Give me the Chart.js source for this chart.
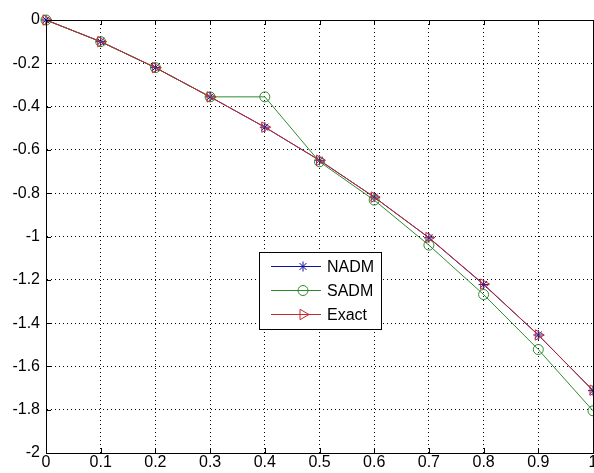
<!DOCTYPE html>
<html>
<head>
<meta charset="utf-8">
<script src="https://cdn.jsdelivr.net/npm/chart.js@4/dist/chart.umd.min.js"></script>
<style>
  html, body { margin: 0; padding: 0; background: #fff; overflow: hidden; }
  #wrap { width: 594px; height: 473px; overflow: hidden; }
</style>
</head>
<body>
<div id="wrap"><canvas id="myChart" width="600" height="473"></canvas></div>
<script>
// values
const xValues = [0, 0.1, 0.2, 0.3, 0.4, 0.5, 0.6, 0.7, 0.8, 0.9, 1.0];
const nadm  = [0, -0.1, -0.22, -0.355, -0.495, -0.648, -0.818, -1.006, -1.222, -1.455, -1.712];
const sadm  = [0, -0.1, -0.22, -0.355, -0.355, -0.655, -0.832, -1.04, -1.268, -1.522, -1.805];
const exact = [0, -0.1, -0.22, -0.355, -0.495, -0.648, -0.818, -1.005, -1.22, -1.455, -1.71];
const seriesNames = ["NADM", "SADM", "Exact"];

const FONT = '"Liberation Sans", Arial, sans-serif';

function toPoints(ys) {
    return xValues.map((x, i) => ({ x: x, y: ys[i] }));
}

// MATLAB-like box, inward ticks and legend inside the axes
const matlabBox = {
    id: 'matlabBox',
    afterDatasetsDraw(chart) {
        const { ctx, chartArea: a, scales } = chart;
        ctx.save();
        ctx.strokeStyle = '#000';
        ctx.lineWidth = 1;
        ctx.setLineDash([]);
        ctx.strokeRect(a.left + 0.5, a.top + 0.5, a.right - a.left, a.bottom - a.top);
        ctx.beginPath();
        scales.x.ticks.forEach(t => {
            const px = Math.round(scales.x.getPixelForValue(t.value)) + 0.5;
            ctx.moveTo(px, a.bottom); ctx.lineTo(px, a.bottom - 5);
            ctx.moveTo(px, a.top); ctx.lineTo(px, a.top + 5);
        });
        scales.y.ticks.forEach(t => {
            const py = Math.round(scales.y.getPixelForValue(t.value)) + 0.5;
            ctx.moveTo(a.left, py); ctx.lineTo(a.left + 5, py);
        });
        ctx.stroke();

        // legend
        const lx = 259, ly = 252, lw = 122, lh = 77;
        ctx.fillStyle = '#fff';
        ctx.fillRect(lx, ly, lw, lh);
        ctx.strokeStyle = '#000';
        ctx.strokeRect(lx + 0.5, ly + 0.5, lw, lh);
        ctx.font = '16px ' + FONT;
        ctx.textBaseline = 'middle';
        chart.data.datasets.forEach((ds, i) => {
            const y = ly + 14 + i * 24 + 0.5;
            ctx.strokeStyle = ds.borderColor;
            ctx.beginPath();
            ctx.moveTo(lx + 12, y); ctx.lineTo(lx + 62, y);
            ctx.stroke();
            ctx.fillStyle = 'rgba(0,0,0,0)';
            Chart.helpers.drawPoint(ctx, {
                pointStyle: ds.pointStyle,
                radius: ds.pointRadius,
                rotation: ds.pointRotation || 0,
                borderWidth: 1
            }, lx + 44, y);
            ctx.fillStyle = '#000';
            ctx.fillText(ds.label, lx + 68, y + 1);
        });
        ctx.restore();
    }
};

const ctx = document.getElementById('myChart').getContext('2d');
const myChart = new Chart(ctx, {
    type: 'line',
    data: {
        datasets: [
            {
                label: seriesNames[0],
                data: toPoints(nadm),
                borderColor: '#1010a0',
                backgroundColor: '#1010a0',
                borderWidth: 1,
                pointStyle: 'star',
                pointRadius: 5,
                pointBorderWidth: 1,
                order: 2
            },
            {
                label: seriesNames[1],
                data: toPoints(sadm),
                borderColor: '#2e8b2e',
                backgroundColor: 'rgba(0,0,0,0)',
                borderWidth: 1,
                pointStyle: 'circle',
                pointRadius: 5,
                pointBorderWidth: 1,
                order: 1
            },
            {
                label: seriesNames[2],
                data: toPoints(exact),
                borderColor: '#c42a2a',
                backgroundColor: 'rgba(0,0,0,0)',
                borderWidth: 1,
                pointStyle: 'triangle',
                pointRotation: 90,
                pointRadius: 6,
                pointBorderWidth: 1,
                order: 0
            }
        ]
    },
    options: {
        responsive: false,
        animation: false,
        clip: false,
        layout: { padding: { top: 20, right: 0, left: 0, bottom: 0 } },
        plugins: {
            legend: { display: false },
            tooltip: { enabled: false }
        },
        scales: {
            x: {
                type: 'linear',
                min: 0,
                max: 1,
                afterFit(scale) {
                    scale.height = 20;
                },
                afterBuildTicks(scale) {
                    scale.ticks = xValues.map(v => ({ value: v }));
                },
                ticks: {
                    color: '#000',
                    font: { family: FONT, size: 16 },
                    padding: 0,
                    maxRotation: 0,
                    autoSkip: false,
                    callback: v => String(Math.round(v * 10) / 10)
                },
                grid: {
                    color: '#000',
                    lineWidth: 1,
                    drawTicks: false
                },
                border: { display: true, color: '#000', dash: [1, 3] }
            },
            y: {
                type: 'linear',
                min: -2,
                max: 0,
                afterFit(scale) {
                    scale.width = 46;
                },
                ticks: {
                    stepSize: 0.2,
                    color: '#000',
                    font: { family: FONT, size: 16 },
                    padding: 6,
                    callback: v => String(Math.round(v * 10) / 10)
                },
                grid: {
                    color: '#000',
                    lineWidth: 1,
                    drawTicks: false
                },
                border: { display: true, color: '#000', dash: [1, 3] }
            }
        }
    },
    plugins: [matlabBox]
});
</script>
</body>
</html>
